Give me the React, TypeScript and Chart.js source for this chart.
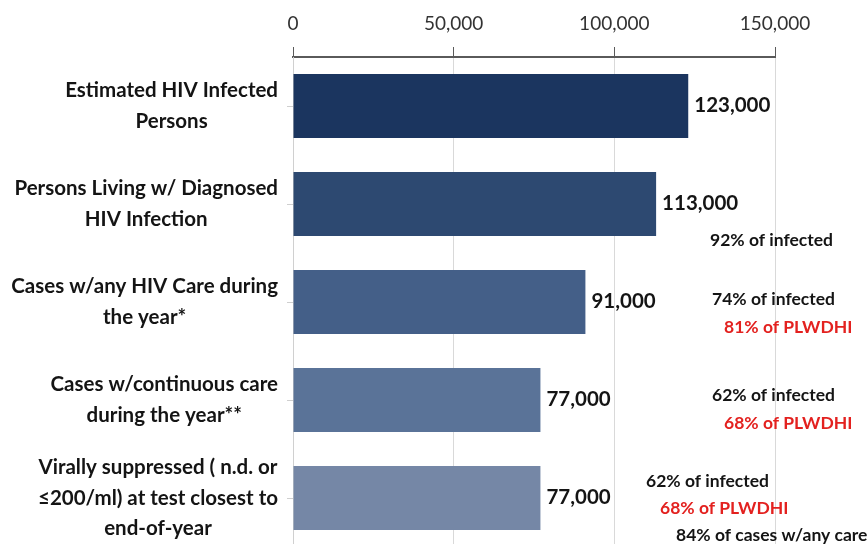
import React, { useEffect, useRef } from "react";
import { Chart, registerables } from "chart.js";

Chart.register(...registerables);

// ---- data ----
const CATEGORY_LABELS: string[][] = [
  ["Estimated HIV Infected", "Persons"],
  ["Persons Living w/ Diagnosed", "HIV Infection"],
  ["Cases w/any HIV Care during", "the year*"],
  ["Cases w/continuous care", "during the year**"],
  ["Virally suppressed ( n.d. or", "≤200/ml) at test closest to", "end-of-year"],
];
const PERSONS = [123000, 113000, 91000, 77000, 77000];
const VALUE_LABELS = ["123,000", "113,000", "91,000", "77,000", "77,000"];
const X_MIN = 0;
const X_MAX = 150000;
const X_STEP = 50000;
const NOTE_TEXTS: string[][] = [
  [],
  ["92% of infected"],
  ["74% of infected", "81% of PLWDHI"],
  ["62% of infected", "68% of PLWDHI"],
  ["62% of infected", "68% of PLWDHI", "84% of cases w/any care"],
];
const NOTE_IS_RED: boolean[][] = [
  [],
  [false],
  [false, true],
  [false, true],
  [false, true, false],
];

// ---- style / layout ----
const BAR_COLORS = ["#1b355f", "#2d4971", "#445f88", "#5a7398", "#7587a6"];
const FONT = "Lato, 'Open Sans', sans-serif";
// note positions: [left x in px, offset from bar centre in px]
const NOTE_POS: number[][][] = [
  [],
  [[710, 36]],
  [[712, -3], [724, 25]],
  [[712, -5], [724, 23]],
  [[646, -17], [660, 10], [676, 37]],
];

export default function App() {
  const ref = useRef<HTMLCanvasElement | null>(null);

  useEffect(() => {
    if (!ref.current) return;

    const labelsPlugin = {
      id: "customLabels",
      afterDraw(chart: any) {
        const ctx = chart.ctx;
        const yScale = chart.scales.y;
        const meta = chart.getDatasetMeta(0);
        ctx.save();
        // category labels: block right aligned, lines centred
        ctx.font = `bold 20.5px ${FONT}`;
        ctx.fillStyle = "#141414";
        ctx.textBaseline = "middle";
        ctx.textAlign = "center";
        const lineH = 30.5;
        CATEGORY_LABELS.forEach((lines, i) => {
          const yc = yScale.getPixelForTick(i);
          const maxW = Math.max(...lines.map((l) => ctx.measureText(l).width));
          const cx = yScale.right - 15 - maxW / 2;
          const y0 = yc - ((lines.length - 1) * lineH) / 2;
          lines.forEach((l, j) => ctx.fillText(l, cx, y0 + j * lineH));
        });
        // value labels
        ctx.font = `bold 20.5px ${FONT}`;
        ctx.textAlign = "left";
        ctx.fillStyle = "#141414";
        meta.data.forEach((bar: any, i: number) => {
          ctx.fillText(VALUE_LABELS[i], bar.x + 6, bar.y - 1);
        });
        // notes
        ctx.font = `bold 17.5px ${FONT}`;
        NOTE_TEXTS.forEach((texts, i) => {
          const yc = yScale.getPixelForTick(i);
          texts.forEach((t, j) => {
            const [x, dy] = NOTE_POS[i][j];
            ctx.fillStyle = NOTE_IS_RED[i][j] ? "#e3211f" : "#141414";
            ctx.fillText(t, x, yc + dy);
          });
        });
        ctx.restore();
      },
    };

    const chart = new Chart(ref.current, {
      type: "bar",
      data: {
        labels: CATEGORY_LABELS.map((l) => l.join(" ")),
        datasets: [
          {
            data: PERSONS,
            backgroundColor: BAR_COLORS,
            borderWidth: 0,
            barPercentage: 0.655,
            categoryPercentage: 1,
          },
        ],
      },
      options: {
        indexAxis: "y",
        animation: false,
        responsive: true,
        maintainAspectRatio: false,
        layout: { padding: { top: 0, right: 92, bottom: 0, left: 0 } },
        plugins: { legend: { display: false }, tooltip: { enabled: false } },
        scales: {
          x: {
            type: "linear",
            position: "top",
            min: X_MIN,
            max: X_MAX,
            afterFit(s: any) {
              s.height = 57;
            },
            ticks: {
              stepSize: X_STEP,
              padding: 12,
              color: "#333333",
              font: { family: FONT, size: 19 },
              callback: (v: any) => Number(v).toLocaleString("en-US"),
            },
            grid: {
              color: "#d9d9d9",
              tickColor: "#5a5a5a",
              tickLength: 10,
              lineWidth: 1,
            },
            border: { display: true, color: "#5a5a5a", width: 2 },
          },
          y: {
            type: "category",
            afterFit(s: any) {
              s.width = 293;
            },
            ticks: { display: false },
            grid: {
              drawOnChartArea: false,
              offset: false,
              tickLength: 6,
              color: "#cfcfcf",
            },
            border: { display: true, color: "#d0d0d0", width: 1 },
          },
        },
      },
      plugins: [labelsPlugin],
    } as any);

    return () => chart.destroy();
  }, []);

  return (
    <div
      style={{
        position: "fixed",
        left: 0,
        top: 0,
        width: 867,
        height: 544,
        overflow: "hidden",
        background: "#ffffff",
      }}
    >
      <div style={{ position: "relative", width: 867, height: 547 }}>
        <canvas ref={ref} />
      </div>
    </div>
  );
}
